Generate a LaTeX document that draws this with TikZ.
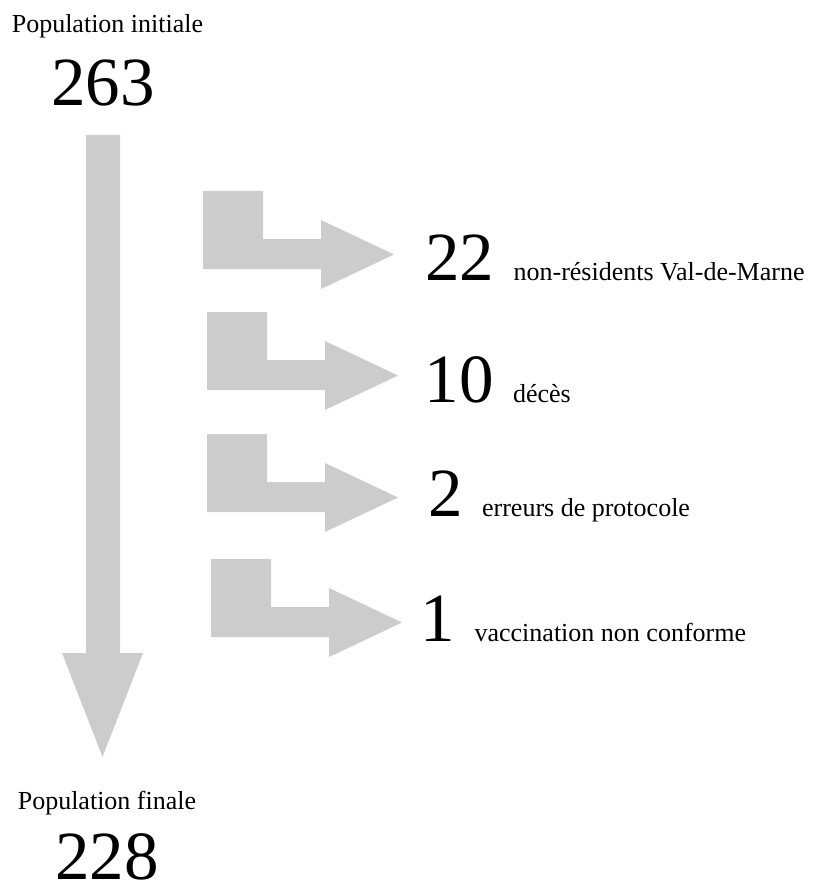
\documentclass[tikz,border=0pt]{standalone}
\usepackage{fontspec}
\setmainfont{Liberation Serif}
\usetikzlibrary{positioning}
\definecolor{gris}{HTML}{CCCCCC}
\begin{document}
\begin{tikzpicture}[x=1pt, y=-1pt,
    titre/.style={anchor=base west, inner sep=0pt, font=\fontsize{26}{30}\selectfont},
    nombre/.style={anchor=base west, inner sep=0pt, font=\fontsize{69}{80}\selectfont},
    motif/.style={anchor=base west, inner sep=0pt, font=\fontsize{26}{30}\selectfont},
    coude/.pic={\fill[gris] (0,0) -- (60,0) -- (60,48) -- (118,48) -- (118,29) -- (191,63.5) -- (118,98) -- (118,78) -- (0,78) -- cycle;}]
    \useasboundingbox (0,0) rectangle (818,885);

    % population de depart et d'arrivee
    \node[titre] (pinit) at (11.6,33) {Population initiale};
    \node[nombre] (n263) at (51,106) {263};
    \node[titre] (pfin) at (17.6,809) {Population finale};
    \node[nombre] (n228) at (55,879) {228};

    % grande fleche
    \fill[gris] (86,135) -- (120,135) -- (120,653) -- (143,653) -- (102.5,757) -- (62,653) -- (86,653) -- cycle;

    % exclusions
    \pic at (203,191) {coude};
    \pic at (207,312) {coude};
    \pic at (207,434) {coude};
    \pic at (211,559) {coude};

    \node[nombre] (n22) at (425,280) {22};
    \node[motif] (m22) at ([xshift=19pt]n22.base east) {non-résidents Val-de-Marne};
    \node[nombre] (n10) at (424.5,402) {10};
    \node[motif] (m10) at ([xshift=19pt]n10.base east) {décès};
    \node[nombre] (n2) at (428,516) {2};
    \node[motif] (m2) at ([xshift=19pt]n2.base east) {erreurs de protocole};
    \node[nombre] (n1) at (420.5,641) {1};
    \node[motif] (m1) at ([xshift=19pt]n1.base east) {vaccination non conforme};
\end{tikzpicture}
\end{document}
